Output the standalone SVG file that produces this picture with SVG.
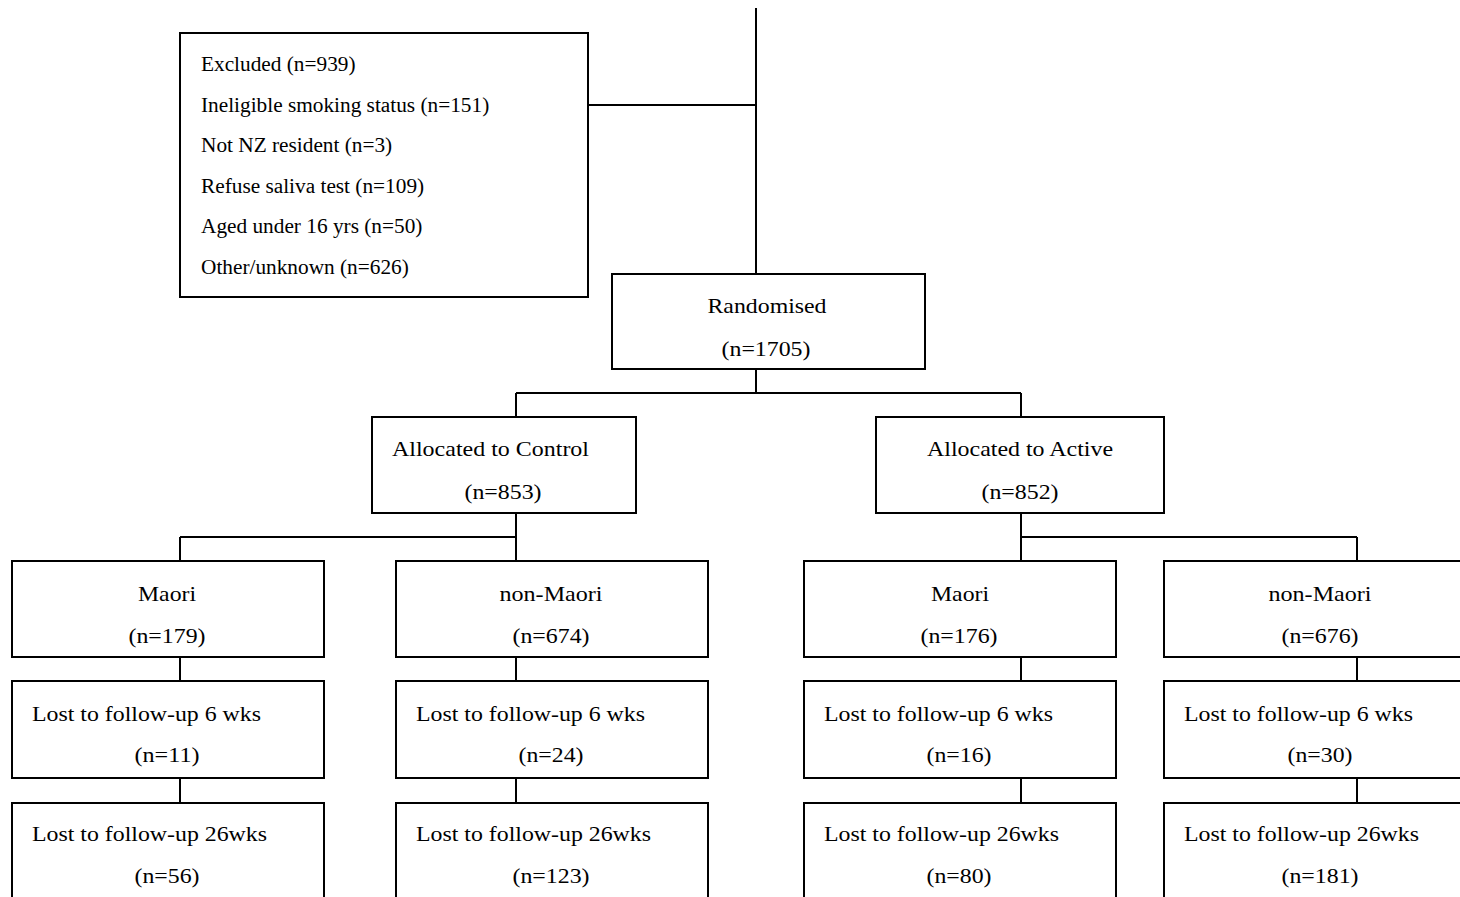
<svg xmlns="http://www.w3.org/2000/svg" width="1460" height="897" viewBox="0 0 1460 897">
<style>
.box{fill:#fff;stroke:#000;stroke-width:2}
.ln{fill:none;stroke:#000;stroke-width:2}
text{font-family:"Liberation Serif","Times New Roman",serif;fill:#000}
.t{font-size:22px}
.c{text-anchor:middle}
.ex{font-size:21.3px}
</style>
<rect width="1460" height="897" fill="#fff"/>
<g id="connectors">
<path class="ln" d="M756,8 V274"/>
<path class="ln" d="M588,105 H756"/>
<path class="ln" d="M756,369 V393 M516,393 H1021 M516,393 V417 M1021,393 V417"/>
<path class="ln" d="M516,513 V561 M180,537 H516 M180,537 V561"/>
<path class="ln" d="M1021,513 V561 M1021,537 H1357 M1357,537 V561"/>
<path class="ln" d="M180,657 V681 M180,778 V803"/>
<path class="ln" d="M516,657 V681 M516,778 V803"/>
<path class="ln" d="M1021,657 V681 M1021,778 V803"/>
<path class="ln" d="M1357,657 V681 M1357,778 V803"/>
</g>
<g id="excluded">
<rect class="box" x="180" y="33" width="408" height="264"/>
<text class="ex" x="201" y="71">Excluded (n=939)</text>
<text class="ex" x="201" y="111.6">Ineligible smoking status (n=151)</text>
<text class="ex" x="201" y="152.2">Not NZ resident (n=3)</text>
<text class="ex" x="201" y="192.8">Refuse saliva test (n=109)</text>
<text class="ex" x="201" y="233.4">Aged under 16 yrs (n=50)</text>
<text class="ex" x="201" y="274">Other/unknown (n=626)</text>
</g>
<g id="randomised">
<rect class="box" x="612" y="274" width="313" height="95"/>
<text class="t c" x="767" y="313" textLength="119" lengthAdjust="spacingAndGlyphs">Randomised</text>
<text class="t c" x="766" y="356" textLength="89" lengthAdjust="spacingAndGlyphs">(n=1705)</text>
</g>
<g id="control">
<rect class="box" x="372" y="417" width="264" height="96"/>
<text class="t" x="392" y="456" textLength="197" lengthAdjust="spacingAndGlyphs">Allocated to Control</text>
<text class="t c" x="503" y="499" textLength="77" lengthAdjust="spacingAndGlyphs">(n=853)</text>
</g>
<g id="active">
<rect class="box" x="876" y="417" width="288" height="96"/>
<text class="t c" x="1020" y="456" textLength="186" lengthAdjust="spacingAndGlyphs">Allocated to Active</text>
<text class="t c" x="1020" y="499" textLength="77" lengthAdjust="spacingAndGlyphs">(n=852)</text>
</g>
<g id="control-maori">
<rect class="box" x="12" y="561" width="312" height="96"/>
<text class="t c" x="167" y="601" textLength="58" lengthAdjust="spacingAndGlyphs">Maori</text>
<text class="t c" x="167" y="643" textLength="77" lengthAdjust="spacingAndGlyphs">(n=179)</text>
</g>
<g id="control-nonmaori">
<rect class="box" x="396" y="561" width="312" height="96"/>
<text class="t c" x="551" y="601" textLength="103" lengthAdjust="spacingAndGlyphs">non-Maori</text>
<text class="t c" x="551" y="643" textLength="77" lengthAdjust="spacingAndGlyphs">(n=674)</text>
</g>
<g id="active-maori">
<rect class="box" x="804" y="561" width="312" height="96"/>
<text class="t c" x="960" y="601" textLength="58" lengthAdjust="spacingAndGlyphs">Maori</text>
<text class="t c" x="959" y="643" textLength="77" lengthAdjust="spacingAndGlyphs">(n=176)</text>
</g>
<g id="active-nonmaori">
<rect class="box" x="1164" y="561" width="312" height="96"/>
<text class="t c" x="1320" y="601" textLength="103" lengthAdjust="spacingAndGlyphs">non-Maori</text>
<text class="t c" x="1320" y="643" textLength="77" lengthAdjust="spacingAndGlyphs">(n=676)</text>
</g>
<g id="control-maori-6wk">
<rect class="box" x="12" y="681" width="312" height="97"/>
<text class="t" x="32" y="721" textLength="229" lengthAdjust="spacingAndGlyphs">Lost to follow-up 6 wks</text>
<text class="t c" x="167" y="762" textLength="65" lengthAdjust="spacingAndGlyphs">(n=11)</text>
</g>
<g id="control-nonmaori-6wk">
<rect class="box" x="396" y="681" width="312" height="97"/>
<text class="t" x="416" y="721" textLength="229" lengthAdjust="spacingAndGlyphs">Lost to follow-up 6 wks</text>
<text class="t c" x="551" y="762" textLength="65" lengthAdjust="spacingAndGlyphs">(n=24)</text>
</g>
<g id="active-maori-6wk">
<rect class="box" x="804" y="681" width="312" height="97"/>
<text class="t" x="824" y="721" textLength="229" lengthAdjust="spacingAndGlyphs">Lost to follow-up 6 wks</text>
<text class="t c" x="959" y="762" textLength="65" lengthAdjust="spacingAndGlyphs">(n=16)</text>
</g>
<g id="active-nonmaori-6wk">
<rect class="box" x="1164" y="681" width="312" height="97"/>
<text class="t" x="1184" y="721" textLength="229" lengthAdjust="spacingAndGlyphs">Lost to follow-up 6 wks</text>
<text class="t c" x="1320" y="762" textLength="65" lengthAdjust="spacingAndGlyphs">(n=30)</text>
</g>
<g id="control-maori-26wk">
<rect class="box" x="12" y="803" width="312" height="110"/>
<text class="t" x="32" y="841" textLength="235" lengthAdjust="spacingAndGlyphs">Lost to follow-up 26wks</text>
<text class="t c" x="167" y="883" textLength="65" lengthAdjust="spacingAndGlyphs">(n=56)</text>
</g>
<g id="control-nonmaori-26wk">
<rect class="box" x="396" y="803" width="312" height="110"/>
<text class="t" x="416" y="841" textLength="235" lengthAdjust="spacingAndGlyphs">Lost to follow-up 26wks</text>
<text class="t c" x="551" y="883" textLength="77" lengthAdjust="spacingAndGlyphs">(n=123)</text>
</g>
<g id="active-maori-26wk">
<rect class="box" x="804" y="803" width="312" height="110"/>
<text class="t" x="824" y="841" textLength="235" lengthAdjust="spacingAndGlyphs">Lost to follow-up 26wks</text>
<text class="t c" x="959" y="883" textLength="65" lengthAdjust="spacingAndGlyphs">(n=80)</text>
</g>
<g id="active-nonmaori-26wk">
<rect class="box" x="1164" y="803" width="312" height="110"/>
<text class="t" x="1184" y="841" textLength="235" lengthAdjust="spacingAndGlyphs">Lost to follow-up 26wks</text>
<text class="t c" x="1320" y="883" textLength="77" lengthAdjust="spacingAndGlyphs">(n=181)</text>
</g>
</svg>
